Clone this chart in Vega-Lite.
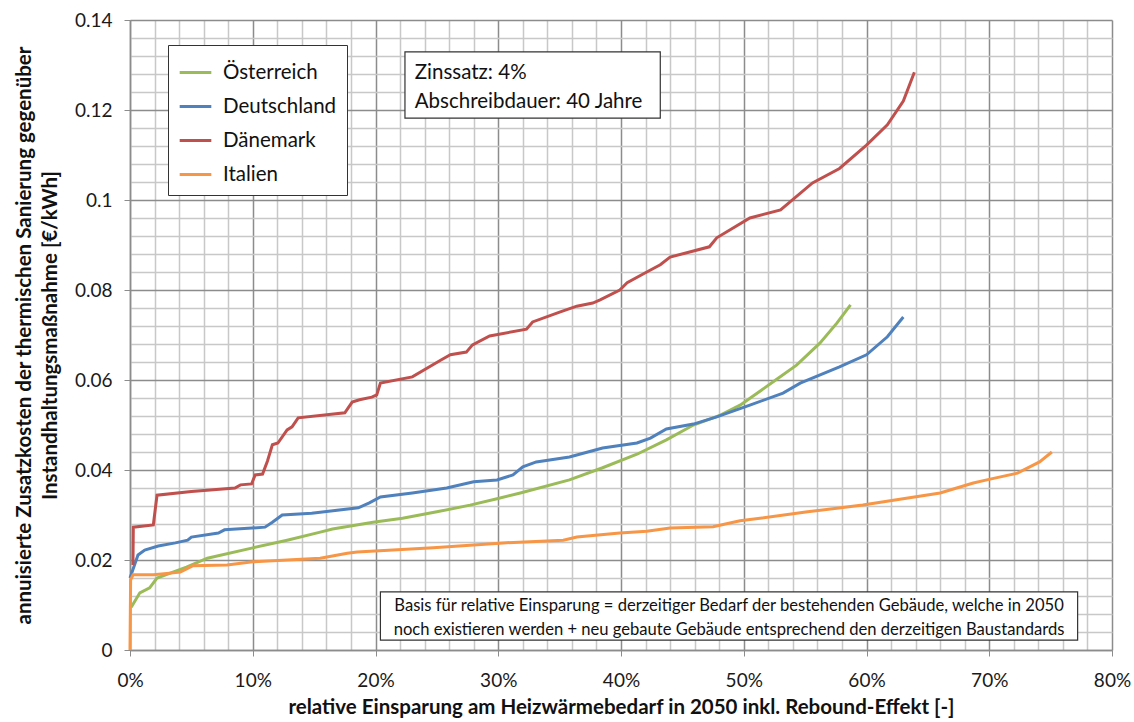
{
  "$schema": "https://vega.github.io/schema/vega-lite/v6.json",
  "width": 982,
  "height": 630,
  "autosize": {"type": "none"},
  "padding": {"left": 130, "top": 20, "right": 22, "bottom": 72},
  "background": "white",
  "config": {
    "font": "Lato",
    "view": {"stroke": null},
    "axis": {"labelFont": "Lato", "titleFont": "Lato"}
  },
  "datasets": {
    "lines": [
      {"c": "Österreich", "x": 0.1, "y": 0.0095},
      {"c": "Österreich", "x": 0.8, "y": 0.0127},
      {"c": "Österreich", "x": 1.6, "y": 0.0138},
      {"c": "Österreich", "x": 2.2, "y": 0.016},
      {"c": "Österreich", "x": 4.6, "y": 0.0184},
      {"c": "Österreich", "x": 6.3, "y": 0.0204},
      {"c": "Österreich", "x": 10, "y": 0.0227},
      {"c": "Österreich", "x": 12.8, "y": 0.0244},
      {"c": "Österreich", "x": 15.5, "y": 0.0262},
      {"c": "Österreich", "x": 16.5, "y": 0.0269},
      {"c": "Österreich", "x": 19.8, "y": 0.0284},
      {"c": "Österreich", "x": 22.2, "y": 0.0293},
      {"c": "Österreich", "x": 25, "y": 0.0307},
      {"c": "Österreich", "x": 27.7, "y": 0.0322},
      {"c": "Österreich", "x": 29.9, "y": 0.0336},
      {"c": "Österreich", "x": 31.8, "y": 0.0349},
      {"c": "Österreich", "x": 35.8, "y": 0.0378},
      {"c": "Österreich", "x": 38.5, "y": 0.0405},
      {"c": "Österreich", "x": 41.3, "y": 0.0435},
      {"c": "Österreich", "x": 43.7, "y": 0.0467},
      {"c": "Österreich", "x": 45.9, "y": 0.05},
      {"c": "Österreich", "x": 48.1, "y": 0.0522},
      {"c": "Österreich", "x": 49.7, "y": 0.0544},
      {"c": "Österreich", "x": 52.4, "y": 0.0596},
      {"c": "Österreich", "x": 54.3, "y": 0.0633},
      {"c": "Österreich", "x": 56.2, "y": 0.0682},
      {"c": "Österreich", "x": 57.6, "y": 0.0727},
      {"c": "Österreich", "x": 58.7, "y": 0.0767},

      {"c": "Deutschland", "x": 0, "y": 0.016},
      {"c": "Deutschland", "x": 0.65, "y": 0.0211},
      {"c": "Deutschland", "x": 1.2, "y": 0.0222},
      {"c": "Deutschland", "x": 2.3, "y": 0.0231},
      {"c": "Deutschland", "x": 3.7, "y": 0.0238},
      {"c": "Deutschland", "x": 4.7, "y": 0.0244},
      {"c": "Deutschland", "x": 5, "y": 0.0251},
      {"c": "Deutschland", "x": 7.2, "y": 0.026},
      {"c": "Deutschland", "x": 7.7, "y": 0.0267},
      {"c": "Deutschland", "x": 11, "y": 0.0273},
      {"c": "Deutschland", "x": 11.6, "y": 0.0284},
      {"c": "Deutschland", "x": 12.4, "y": 0.03},
      {"c": "Deutschland", "x": 14.8, "y": 0.0304},
      {"c": "Deutschland", "x": 18.6, "y": 0.0316},
      {"c": "Deutschland", "x": 19.5, "y": 0.0327},
      {"c": "Deutschland", "x": 20.4, "y": 0.034},
      {"c": "Deutschland", "x": 23, "y": 0.0349},
      {"c": "Deutschland", "x": 25.8, "y": 0.036},
      {"c": "Deutschland", "x": 28, "y": 0.0374},
      {"c": "Deutschland", "x": 29.9, "y": 0.0378},
      {"c": "Deutschland", "x": 31.2, "y": 0.0389},
      {"c": "Deutschland", "x": 32, "y": 0.0407},
      {"c": "Deutschland", "x": 33.1, "y": 0.0418},
      {"c": "Deutschland", "x": 35.8, "y": 0.0429},
      {"c": "Deutschland", "x": 38.5, "y": 0.0449},
      {"c": "Deutschland", "x": 41.3, "y": 0.046},
      {"c": "Deutschland", "x": 42.4, "y": 0.0471},
      {"c": "Deutschland", "x": 43.7, "y": 0.0491},
      {"c": "Deutschland", "x": 45.9, "y": 0.0502},
      {"c": "Deutschland", "x": 47.8, "y": 0.0518},
      {"c": "Deutschland", "x": 50.5, "y": 0.0544},
      {"c": "Deutschland", "x": 53.2, "y": 0.0571},
      {"c": "Deutschland", "x": 54.6, "y": 0.0593},
      {"c": "Deutschland", "x": 57.8, "y": 0.0629},
      {"c": "Deutschland", "x": 60, "y": 0.0656},
      {"c": "Deutschland", "x": 61.7, "y": 0.0696},
      {"c": "Deutschland", "x": 63, "y": 0.074},

      {"c": "Dänemark", "x": 0.24, "y": 0.0189},
      {"c": "Dänemark", "x": 0.27, "y": 0.0273},
      {"c": "Dänemark", "x": 1.9, "y": 0.0278},
      {"c": "Dänemark", "x": 2.2, "y": 0.0344},
      {"c": "Dänemark", "x": 5, "y": 0.0352},
      {"c": "Dänemark", "x": 8.55, "y": 0.036},
      {"c": "Dänemark", "x": 9, "y": 0.0367},
      {"c": "Dänemark", "x": 9.9, "y": 0.0369},
      {"c": "Dänemark", "x": 10.2, "y": 0.0389},
      {"c": "Dänemark", "x": 10.8, "y": 0.0391},
      {"c": "Dänemark", "x": 11.2, "y": 0.042},
      {"c": "Dänemark", "x": 11.6, "y": 0.0456},
      {"c": "Dänemark", "x": 12.05, "y": 0.046},
      {"c": "Dänemark", "x": 12.8, "y": 0.0489},
      {"c": "Dänemark", "x": 13.2, "y": 0.0496},
      {"c": "Dänemark", "x": 13.7, "y": 0.0516},
      {"c": "Dänemark", "x": 17.5, "y": 0.0527},
      {"c": "Dänemark", "x": 18.1, "y": 0.0551},
      {"c": "Dänemark", "x": 18.7, "y": 0.0556},
      {"c": "Dänemark", "x": 19.7, "y": 0.0562},
      {"c": "Dänemark", "x": 20.1, "y": 0.0567},
      {"c": "Dänemark", "x": 20.4, "y": 0.0593},
      {"c": "Dänemark", "x": 23, "y": 0.0607},
      {"c": "Dänemark", "x": 25.3, "y": 0.0644},
      {"c": "Dänemark", "x": 26.1, "y": 0.0656},
      {"c": "Dänemark", "x": 27.4, "y": 0.0662},
      {"c": "Dänemark", "x": 27.9, "y": 0.0678},
      {"c": "Dänemark", "x": 29.3, "y": 0.0698},
      {"c": "Dänemark", "x": 32.3, "y": 0.0713},
      {"c": "Dänemark", "x": 32.8, "y": 0.0729},
      {"c": "Dänemark", "x": 35, "y": 0.0751},
      {"c": "Dänemark", "x": 36.4, "y": 0.0764},
      {"c": "Dänemark", "x": 37.7, "y": 0.0771},
      {"c": "Dänemark", "x": 38.3, "y": 0.0778},
      {"c": "Dänemark", "x": 39.9, "y": 0.08},
      {"c": "Dänemark", "x": 40.5, "y": 0.0816},
      {"c": "Dänemark", "x": 42.1, "y": 0.084},
      {"c": "Dänemark", "x": 43.2, "y": 0.0856},
      {"c": "Dänemark", "x": 44, "y": 0.0873},
      {"c": "Dänemark", "x": 47.2, "y": 0.0896},
      {"c": "Dänemark", "x": 47.8, "y": 0.0916},
      {"c": "Dänemark", "x": 50.5, "y": 0.096},
      {"c": "Dänemark", "x": 53, "y": 0.0978},
      {"c": "Dänemark", "x": 55.6, "y": 0.1038},
      {"c": "Dänemark", "x": 57.8, "y": 0.107},
      {"c": "Dänemark", "x": 60, "y": 0.1122},
      {"c": "Dänemark", "x": 61.7, "y": 0.1167},
      {"c": "Dänemark", "x": 63, "y": 0.122},
      {"c": "Dänemark", "x": 63.9, "y": 0.1284},

      {"c": "Italien", "x": 0, "y": 0},
      {"c": "Italien", "x": 0.05, "y": 0.0156},
      {"c": "Italien", "x": 0.25, "y": 0.0167},
      {"c": "Italien", "x": 1.9, "y": 0.0167},
      {"c": "Italien", "x": 4.1, "y": 0.0173},
      {"c": "Italien", "x": 5.1, "y": 0.0187},
      {"c": "Italien", "x": 7.9, "y": 0.0189},
      {"c": "Italien", "x": 10, "y": 0.0196},
      {"c": "Italien", "x": 15.5, "y": 0.0204},
      {"c": "Italien", "x": 17.7, "y": 0.0215},
      {"c": "Italien", "x": 18.5, "y": 0.0218},
      {"c": "Italien", "x": 24.7, "y": 0.0227},
      {"c": "Italien", "x": 30.4, "y": 0.0238},
      {"c": "Italien", "x": 35.3, "y": 0.0244},
      {"c": "Italien", "x": 36.4, "y": 0.0251},
      {"c": "Italien", "x": 39.9, "y": 0.026},
      {"c": "Italien", "x": 42.1, "y": 0.0264},
      {"c": "Italien", "x": 44, "y": 0.0271},
      {"c": "Italien", "x": 47.5, "y": 0.0274},
      {"c": "Italien", "x": 49.7, "y": 0.0287},
      {"c": "Italien", "x": 55.2, "y": 0.0307},
      {"c": "Italien", "x": 59.7, "y": 0.0322},
      {"c": "Italien", "x": 66, "y": 0.0349},
      {"c": "Italien", "x": 68.7, "y": 0.0371},
      {"c": "Italien", "x": 69.8, "y": 0.0378},
      {"c": "Italien", "x": 72.3, "y": 0.0393},
      {"c": "Italien", "x": 74.1, "y": 0.0418},
      {"c": "Italien", "x": 75.1, "y": 0.044}
    ],
    "boxes": [
      {"x": 22.4, "x2": 43.2, "y": 0.1329, "y2": 0.1182},
      {"x": 20.4, "x2": 77.2, "y": 0.0129, "y2": 0.0022}
    ],
    "leftText": [
      {"x": 23.2, "y": 0.1282, "t": "Zinssatz: 4%"},
      {"x": 23.2, "y": 0.1218, "t": "Abschreibdauer: 40 Jahre"}
    ],
    "centerText": [
      {"x": 48.8, "y": 0.0098, "t": "Basis für relative Einsparung = derzeitiger Bedarf der bestehenden Gebäude, welche in 2050"},
      {"x": 48.8, "y": 0.0044, "t": "noch existieren werden + neu gebaute Gebäude entsprechend den derzeitigen Baustandards"}
    ]
  },
  "layer": [
    {
      "data": {"name": "lines"},
      "mark": {"type": "line", "strokeWidth": 3, "interpolate": "linear"},
      "encoding": {
        "x": {
          "field": "x", "type": "quantitative",
          "scale": {"domain": [0, 80], "nice": false, "zero": false},
          "axis": {
            "values": [0,2,4,6,8,10,12,14,16,18,20,22,24,26,28,30,32,34,36,38,40,42,44,46,48,50,52,54,56,58,60,62,64,66,68,70,72,74,76,78,80],
            "tickCount": 200,
            "labelExpr": "datum.value % 10 === 0 ? datum.value + '%' : ''",
            "labelOverlap": false,
            "grid": true,
            "gridColor": {"condition": {"test": "datum.value % 10 === 0", "value": "#8c8c8c"}, "value": "#c8c8c8"},
            "gridWidth": 1.5,
            "tickColor": {"condition": {"test": "datum.value % 10 === 0", "value": "#8c8c8c"}, "value": "transparent"},
            "tickSize": 6,
            "domainColor": "#8c8c8c",
            "domainWidth": 1.5,
            "labelFontSize": 19,
            "labelColor": "#1a1a1a",
            "labelPadding": 15,
            "labelFlush": false,
            "title": "relative Einsparung am Heizwärmebedarf in 2050 inkl. Rebound-Effekt  [-]",
            "titleFontSize": 20.5,
            "titleFontWeight": "bold",
            "titleColor": "#111111",
            "titlePadding": 7
          }
        },
        "y": {
          "field": "y", "type": "quantitative",
          "scale": {"domain": [0, 0.14], "nice": false},
          "axis": {
            "values": [0,0.004,0.008,0.012,0.016,0.02,0.024,0.028,0.032,0.036,0.04,0.044,0.048,0.052,0.056,0.06,0.064,0.068,0.072,0.076,0.08,0.084,0.088,0.092,0.096,0.1,0.104,0.108,0.112,0.116,0.12,0.124,0.128,0.132,0.136,0.14],
            "tickCount": 200,
            "labelExpr": "abs(datum.value*50 - round(datum.value*50)) < 0.001 ? format(datum.value, '~g') : ''",
            "labelOverlap": false,
            "grid": true,
            "gridColor": {"condition": {"test": "abs(datum.value*50 - round(datum.value*50)) < 0.001", "value": "#8c8c8c"}, "value": "#c8c8c8"},
            "gridWidth": 1.5,
            "tickColor": {"condition": {"test": "abs(datum.value*50 - round(datum.value*50)) < 0.001", "value": "#8c8c8c"}, "value": "transparent"},
            "tickSize": 6,
            "domainColor": "#8c8c8c",
            "domainWidth": 1.5,
            "labelFontSize": 19,
            "labelColor": "#1a1a1a",
            "labelPadding": 12,
            "labelFlush": false,
            "title": ["annuisierte Zusatzkosten der thermischen Sanierung gegenüber", "Instandhaltungsmaßnahme [€/kWh]"],
            "titleFontSize": 20.5,
            "titleFontWeight": "bold",
            "titleColor": "#111111",
            "titlePadding": 14,
            "titleLineHeight": 26
          }
        },
        "color": {
          "field": "c", "type": "nominal",
          "scale": {"domain": ["Österreich", "Deutschland", "Dänemark", "Italien"], "range": ["#9BBB59", "#4F81BD", "#C0504D", "#F79646"]},
          "legend": {
            "title": null,
            "orient": "none",
            "legendX": 38,
            "legendY": 25,
            "direction": "vertical",
            "fillColor": "white",
            "strokeColor": "#333333",
            "padding": 10,
            "symbolType": "stroke",
            "symbolStrokeWidth": 3,
            "symbolSize": 1000,
            "labelFontSize": 20.5,
            "labelColor": "#111111",
            "labelOffset": 10,
            "rowPadding": 6
          }
        }
      }
    },
    {
      "data": {"name": "boxes"},
      "mark": {"type": "rect", "fill": "white", "stroke": "#333333", "strokeWidth": 1.2},
      "encoding": {
        "x": {"field": "x", "type": "quantitative"},
        "x2": {"field": "x2"},
        "y": {"field": "y", "type": "quantitative"},
        "y2": {"field": "y2"}
      }
    },
    {
      "data": {"name": "leftText"},
      "mark": {"type": "text", "align": "left", "baseline": "middle", "fontSize": 20.5, "color": "#111111"},
      "encoding": {
        "x": {"field": "x", "type": "quantitative"},
        "y": {"field": "y", "type": "quantitative"},
        "text": {"field": "t"}
      }
    },
    {
      "data": {"name": "centerText"},
      "mark": {"type": "text", "align": "center", "baseline": "middle", "fontSize": 16.6, "color": "#111111"},
      "encoding": {
        "x": {"field": "x", "type": "quantitative"},
        "y": {"field": "y", "type": "quantitative"},
        "text": {"field": "t"}
      }
    }
  ]
}
